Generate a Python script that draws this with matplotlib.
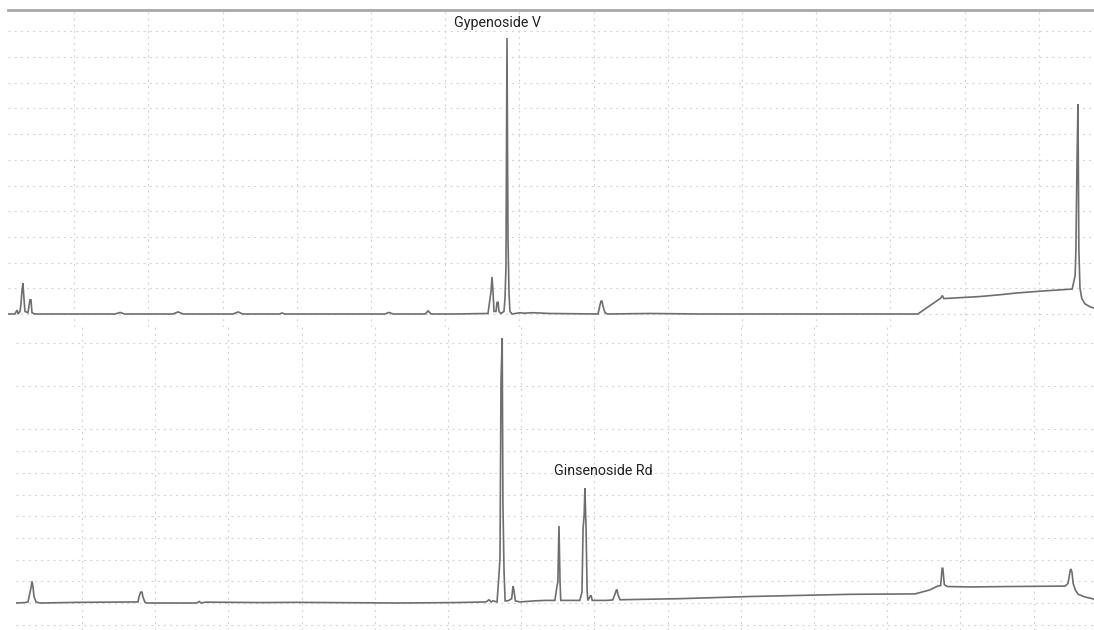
import matplotlib
matplotlib.use("Agg")
import matplotlib.pyplot as plt

# ---- Data (retention time in min, detector response in grid units) ----
top_time = [0.108, 0.20, 0.23, 0.245, 0.27, 0.283, 0.296, 0.31, 0.323, 0.337, 0.377, 0.404,
            0.418, 0.431, 0.47, 1.55, 1.62, 1.68, 2.33, 2.40, 2.47, 3.14, 3.21, 3.27, 3.77,
            3.80, 3.84, 5.19, 5.24, 5.30, 5.73, 5.77, 5.81, 6.13, 6.577, 6.604, 6.617, 6.631,
            6.644, 6.658, 6.685, 6.698, 6.712, 6.725, 6.752, 6.792, 6.806, 6.819, 6.833, 6.846,
            6.86, 6.873, 6.90, 7.01, 7.06, 7.18, 7.41, 8.06, 8.086, 8.10, 8.113, 8.127, 8.154,
            8.19, 8.76, 9.43, 12.37, 12.68, 12.70, 12.72, 13.21, 13.48, 13.71, 14.08, 14.45,
            14.49, 14.50, 14.515, 14.528, 14.54, 14.555, 14.58, 14.62, 14.69, 14.744]
top_signal = [0, 0, 0.15, 0, 0.1, 0.4, 0.9, 1.2, 0.6, 0.1, 0.05, 0.55,
              0.55, 0.05, 0, 0, 0.06, 0, 0, 0.08, 0, 0, 0.08, 0, 0,
              0.04, 0, 0, 0.06, 0, 0, 0.12, 0, 0, 0.02, 0.6, 0.85, 1.44,
              0.9, 0.1, 0.1, 0.45, 0.47, 0.1, 0.02, 0.1, 0.6, 1.83, 10.74, 3.0,
              0.8, 0.1, 0, 0.05, 0.03, 0.05, 0.02, 0, 0.35, 0.5, 0.5, 0.3, 0.05,
              0, 0.02, 0, 0, 0.62, 0.72, 0.6, 0.68, 0.75, 0.82, 0.9, 0.97,
              1.5, 2.5, 5.9, 8.17, 2.5, 1.0, 0.6, 0.4, 0.28, 0.23]

bottom_time = [0.098, 0.22, 0.262, 0.29, 0.303, 0.317, 0.33, 0.344, 0.372, 0.426, 0.945, 1.765,
               1.78, 1.80, 1.82, 1.83, 1.86, 1.89, 2.57, 2.60, 2.63, 2.69, 3.47, 3.90, 5.34,
               6.10, 6.52, 6.56, 6.59, 6.615, 6.67, 6.70, 6.71, 6.724, 6.74, 6.75, 6.765, 6.78,
               6.82, 6.87, 6.888, 6.90, 6.92, 6.98, 7.19, 7.33, 7.46, 7.49, 7.50, 7.516, 7.53,
               7.54, 7.80, 7.83, 7.845, 7.86, 7.87, 7.886, 7.90, 7.91, 7.94, 7.955, 7.97, 8.16,
               8.25, 8.28, 8.30, 8.31, 8.32, 8.35, 9.17, 10.13, 11.49, 12.38, 12.58, 12.69,
               12.73, 12.75, 12.76, 12.78, 12.82, 13.13, 13.68, 14.43, 14.47, 14.50, 14.51,
               14.525, 14.54, 14.57, 14.61, 14.70, 14.825]
bottom_signal = [0, 0.02, 0.05, 0.5, 0.7, 1.0, 0.75, 0.3, 0.05, 0, 0.03, 0.05,
                 0.3, 0.5, 0.5, 0.3, 0.03, 0, 0, 0.07, 0, 0.04, 0.02, 0.03, 0,
                 0.02, 0.05, 0.15, 0.05, 0.1, 0.05, 1.5, 2.1, 10.2, 12.2, 4.6, 1.5, 0.1,
                 0.1, 0.2, 0.78, 0.6, 0.1, 0.05, 0.1, 0.12, 0.12, 0.8, 0.95, 3.55, 1.0,
                 0.12, 0.12, 0.5, 3.45, 4.05, 5.3, 3.4, 0.6, 0.12, 0.3, 0.35, 0.12, 0.12,
                 0.14, 0.4, 0.6, 0.6, 0.4, 0.15, 0.2, 0.3, 0.4, 0.42, 0.6, 0.78,
                 0.8, 1.6, 1.6, 0.85, 0.76, 0.74, 0.76, 0.78, 0.9, 1.5, 1.57,
                 1.4, 0.9, 0.6, 0.4, 0.28, 0.18]

top_label = "Gypenoside V"
top_label_pos = (6.70, 11.32)
bottom_label = "Ginsenoside Rd"
bottom_label_pos = (8.12, 6.08)

top_grid_x = list(range(1, 15))
top_grid_y = list(range(0, 12))
bottom_grid_x = list(range(1, 15))
bottom_grid_y = [-1, 0, 1, 2, 3, 4, 5, 6, 7, 8, 10, 12]

# ---- Figure ----
W, H = 1094, 630
fig = plt.figure(figsize=(W / 100, H / 100), dpi=100)
fig.patch.set_facecolor("white")

def px_axes(left, top, right, bottom):
    return fig.add_axes([left / W, 1 - bottom / H, (right - left) / W, (bottom - top) / H])

ax1 = px_axes(8, 10, 1094, 327)
ax2 = px_axes(16, 327, 1094, 630)

trace_color = "#6e6e6e"
grid_kw = dict(color="#d6d6d6", linestyle=(0, (1.8, 3.4)), linewidth=0.85)

for ax, gx, gy in [(ax1, top_grid_x, top_grid_y), (ax2, bottom_grid_x, bottom_grid_y)]:
    ax.set_xticks(gx)
    ax.set_yticks(gy)
    ax.tick_params(left=False, bottom=False, labelleft=False, labelbottom=False)
    ax.grid(True, **grid_kw)
    ax.set_axisbelow(True)
    for s in ax.spines.values():
        s.set_visible(False)
    ax.set_facecolor("none")

ax1.set_xlim(0.108, 14.744)
ax1.set_ylim(-0.506, 11.83)
ax2.set_xlim(0.098, 14.825)
ax2.set_ylim(-1.244, 12.72)

ax1.spines["top"].set_visible(True)
ax1.spines["top"].set_color("#a8a8a8")
ax1.spines["top"].set_linewidth(2)

ax1.plot(top_time, top_signal, color=trace_color, linewidth=1.2, solid_joinstyle="miter")
ax2.plot(bottom_time, bottom_signal, color=trace_color, linewidth=1.2, solid_joinstyle="miter")

ax1.text(*top_label_pos, top_label, ha="center", va="center", fontsize=10.3,
         family="Roboto", color="#222222")
ax2.text(*bottom_label_pos, bottom_label, ha="center", va="center", fontsize=10.3,
         family="Roboto", color="#222222")

fig.savefig("out.png", dpi=100, facecolor="white")
